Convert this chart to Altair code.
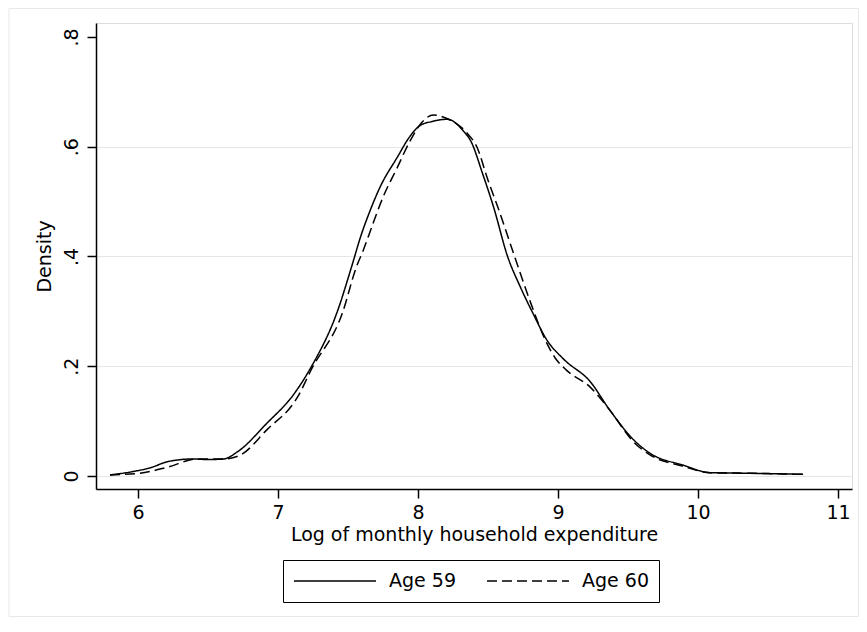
import altair as alt
import pandas as pd

# ---- data ----
age59_x = [5.80, 5.94, 6.10, 6.21, 6.39, 6.50, 6.61, 6.71, 6.92, 7.11, 7.24, 7.42, 7.53,
           7.59, 7.66, 7.73, 7.85, 7.94, 8.01, 8.10, 8.21, 8.32, 8.38, 8.46, 8.54, 8.64, 8.73,
           8.82, 8.92, 9.04, 9.23, 9.37, 9.54, 9.66, 9.89, 10.09, 10.37, 10.75]
age59_y = [0.002, 0.007, 0.016, 0.026, 0.031, 0.030, 0.031, 0.044, 0.096, 0.148, 0.200, 0.297,
           0.385, 0.436, 0.485, 0.527, 0.580, 0.618, 0.638, 0.646, 0.650, 0.630, 0.609, 0.552,
           0.490, 0.400, 0.345, 0.297, 0.248, 0.213, 0.172, 0.120, 0.066, 0.041, 0.020, 0.006,
           0.005, 0.003]

age60_x = [5.80, 6.01, 6.21, 6.42, 6.61, 6.73, 6.92, 7.14, 7.24, 7.46, 7.56, 7.61, 7.68,
           7.75, 7.85, 7.94, 8.03, 8.11, 8.21, 8.35, 8.42, 8.50, 8.57, 8.69, 8.79, 8.92, 8.98,
           9.06, 9.23, 9.37, 9.54, 9.66, 9.89, 10.09, 10.37, 10.75]
age60_y = [0.002, 0.005, 0.016, 0.031, 0.031, 0.038, 0.084, 0.144, 0.195, 0.297, 0.381, 0.412,
           0.461, 0.508, 0.561, 0.609, 0.645, 0.658, 0.651, 0.625, 0.600, 0.539, 0.490, 0.400,
           0.326, 0.242, 0.215, 0.193, 0.162, 0.120, 0.062, 0.038, 0.018, 0.006, 0.005, 0.003]

series_names = ["Age 59", "Age 60"]
x_ticks = [6, 7, 8, 9, 10, 11]
y_ticks = [0, 0.2, 0.4, 0.6, 0.8]

FONT = "DejaVu Sans"

df = pd.concat([
    pd.DataFrame({"x": age59_x, "y": age59_y, "series": series_names[0]}),
    pd.DataFrame({"x": age60_x, "y": age60_y, "series": series_names[1]}),
], ignore_index=True)
frame_df = pd.DataFrame({"a": [0]})

x_scale = alt.Scale(domain=[5.7, 11.1], nice=False, zero=False)
y_scale = alt.Scale(domain=[-0.0237, 0.8255], nice=False, zero=False)

lines = alt.Chart(df).mark_line(color="black", strokeWidth=1.5, interpolate="monotone").encode(
    x=alt.X("x:Q", scale=x_scale,
            axis=alt.Axis(values=x_ticks, title="Log of monthly household expenditure",
                          grid=False, labelFontSize=19, titleFontSize=19,
                          titleFontWeight="normal", labelPadding=5, titlePadding=3,
                          tickSize=9, tickWidth=1.5, domainWidth=1.5,
                          domainColor="black", tickColor="black",
                          labelColor="black", titleColor="black",
                          labelFont=FONT, titleFont=FONT)),
    y=alt.Y("y:Q", scale=y_scale,
            axis=alt.Axis(values=y_ticks, title="Density", grid=True,
                          gridColor="#e6e6e6", gridWidth=1,
                          gridOpacity={"condition": {"test": "datum.value > 0.7", "value": 0},
                                       "value": 1},
                          labelExpr="datum.value == 0 ? '0' : replace(format(datum.value, '.1f'), '0.', '.')",
                          labelAngle=270, labelAlign="center", labelBaseline="bottom",
                          labelFontSize=19, titleFontSize=19, titleFontWeight="normal",
                          labelPadding=6, titlePadding=8,
                          tickSize=9, tickWidth=1.5, domainWidth=1.5,
                          domainColor="black", tickColor="black",
                          labelColor="black", titleColor="black",
                          labelFont=FONT, titleFont=FONT)),
    strokeDash=alt.StrokeDash(
        "series:N",
        scale=alt.Scale(domain=series_names, range=[[1, 0], [10, 5]]),
        legend=alt.Legend(title=None, orient="none", legendX=187, legendY=537,
                          direction="horizontal", columns=2,
                          symbolType="stroke", symbolSize=6724, clipHeight=22,
                          symbolStrokeWidth=1.5, symbolStrokeColor="black",
                          labelFontSize=19, labelFont=FONT, labelColor="black",
                          labelOffset=12, columnPadding=30, padding=10,
                          strokeColor="black", labelLimit=300),
    ),
    detail="series:N",
)

frame = alt.Chart(frame_df).mark_rect(fill=None, stroke="#e8e8e8", strokeWidth=1).encode(
    x=alt.value(-87), x2=alt.value(762.5), y=alt.value(-14.5), y2=alt.value(593.5)
)

chart = alt.layer(frame, lines).properties(
    width=756, height=466,
    autosize=alt.AutoSizeParams(type="none"),
    padding={"left": 88, "top": 15, "right": 7, "bottom": 128},
).configure_view(stroke=None).configure(background="white")

chart.save("out.html", embed_options={"renderer": "svg", "actions": False})
